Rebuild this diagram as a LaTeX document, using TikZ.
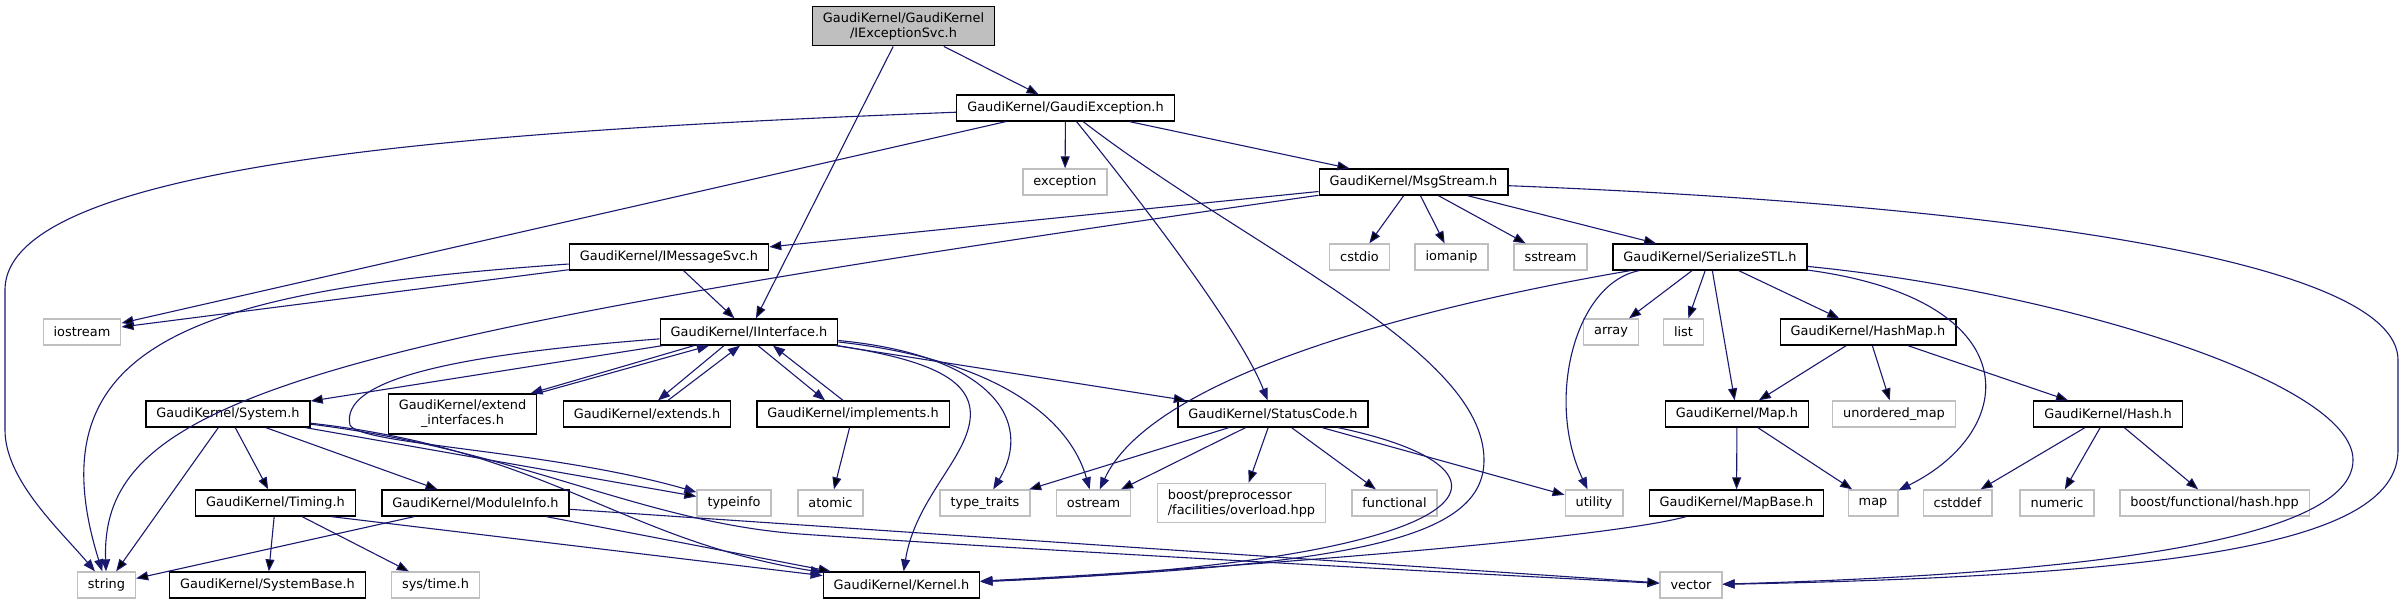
\documentclass[tikz,border=0pt]{standalone}
\usepackage{fontspec}
\setmainfont{DejaVu Sans}
\usetikzlibrary{arrows.meta}
\definecolor{edgeblue}{HTML}{191970}
\definecolor{grey75}{HTML}{BFBFBF}

\begin{document}
\begin{tikzpicture}[x=1pt, y=-1pt,
	every node/.style={draw, fill=white, line width=1.3pt, minimum height=26pt, inner xsep=10.5pt, inner ysep=6pt, font=\fontsize{12.9}{15}\selectfont},
	hdr/.style={draw=black},
	sys/.style={draw=grey75},
	rootbox/.style={draw=black, fill=grey75, align=center},
	dep/.style={draw=edgeblue, line width=1.1pt, -{Triangle[length=12pt, width=9pt]}}]
	\useasboundingbox (0, 0) rectangle (2404, 604);

	\node[rootbox] at (903.5, 26) (root) {GaudiKernel/GaudiKernel\\/IExceptionSvc.h};
	\node[hdr] at (1065.5, 108) (ge) {GaudiKernel/GaudiException.h};
	\node[sys] at (1065, 182) (exc) {exception};
	\node[hdr] at (1413.5, 182) (msg) {GaudiKernel/MsgStream.h};
	\node[hdr] at (669, 257) (imsg) {GaudiKernel/IMessageSvc.h};
	\node[sys] at (1359.5, 257) (cstdio) {cstdio};
	\node[sys] at (1451.5, 257) (iomanip) {iomanip};
	\node[sys] at (1550.5, 257) (sstream) {sstream};
	\node[hdr] at (1710, 257) (ser) {GaudiKernel/SerializeSTL.h};
	\node[sys] at (82, 332) (iostream) {iostream};
	\node[hdr] at (749, 332) (iint) {GaudiKernel/IInterface.h};
	\node[sys] at (1611, 332) (array) {array};
	\node[sys] at (1683.5, 332) (list) {list};
	\node[hdr] at (1868, 332) (hashmap) {GaudiKernel/HashMap.h};
	\node[hdr] at (228, 414) (system) {GaudiKernel/System.h};
	\node[hdr, align=center] at (462.5, 414) (extif) {GaudiKernel/extend\\\_interfaces.h};
	\node[hdr] at (647, 414) (extends) {GaudiKernel/extends.h};
	\node[hdr] at (853, 414) (impl) {GaudiKernel/implements.h};
	\node[hdr] at (1273, 414) (status) {GaudiKernel/StatusCode.h};
	\node[hdr] at (1737, 414) (mapH) {GaudiKernel/Map.h};
	\node[sys] at (1894, 414) (umap) {unordered\_map};
	\node[hdr] at (2108, 414) (hash) {GaudiKernel/Hash.h};
	\node[hdr] at (275.5, 503) (timing) {GaudiKernel/Timing.h};
	\node[hdr] at (475.5, 503) (modinfo) {GaudiKernel/ModuleInfo.h};
	\node[sys] at (734, 503) (typeinfo) {typeinfo};
	\node[sys] at (830.5, 503) (atomic) {atomic};
	\node[sys] at (985, 503) (typetraits) {type\_traits};
	\node[sys] at (1093.5, 503) (ostream) {ostream};
	\node[sys, align=left] at (1241.5, 503) (boostpp) {boost/preprocessor\\/facilities/overload.hpp};
	\node[sys] at (1394.5, 503) (functional) {functional};
	\node[sys] at (1594, 503) (utility) {utility};
	\node[hdr] at (1736.5, 503) (mapbase) {GaudiKernel/MapBase.h};
	\node[sys] at (1873, 503) (map) {map};
	\node[sys] at (1957.5, 503) (cstddef) {cstddef};
	\node[sys] at (2057, 503) (numeric) {numeric};
	\node[sys] at (2214.5, 503) (boosthash) {boost/functional/hash.hpp};
	\node[sys] at (106.5, 585) (string) {string};
	\node[hdr] at (267.5, 585) (sysbase) {GaudiKernel/SystemBase.h};
	\node[sys] at (435.5, 585) (systime) {sys/time.h};
	\node[hdr] at (901.5, 585) (kernel) {GaudiKernel/Kernel.h};
	\node[sys] at (1691, 585) (vector) {vector};

	\draw [dep] (root) edge (ge) (root) edge (iint);
	\draw [dep] (ge) edge (exc) (ge) edge (msg) (ge) edge (iostream);
	\draw [dep] (ge) .. controls (500, 130) and (5, 160) .. (5, 290) -- (5, 430) .. controls (5, 480) and (60, 530) .. (string);
	\draw [dep] (ge) .. controls (1140, 200) and (1240, 330) .. (status);
	\draw [dep] (ge) .. controls (1250, 250) and (1484, 350) .. (1484, 460) .. controls (1484, 540) and (1350, 565) .. (kernel);

	\draw [dep] (msg) edge (imsg) (msg) edge (cstdio) (msg) edge (iomanip) (msg) edge (sstream) (msg) edge (ser);
	\draw [dep] (msg) .. controls (300, 340) and (100, 400) .. (string);
	\draw [dep] (msg) .. controls (2000, 205) and (2398, 260) .. (2398, 360) -- (2398, 450) .. controls (2398, 540) and (2200, 575) .. (vector);

	\draw [dep] (imsg) edge (iint) (imsg) edge (iostream);
	\draw [dep] (imsg) .. controls (200, 290) and (30, 340) .. (string);

	\draw [dep] (ser) edge (array) (ser) edge (list) (ser) edge (mapH) (ser) edge (hashmap);
	\draw [dep] (ser) .. controls (2030, 300) and (2020, 430) .. (map);
	\draw [dep] (ser) .. controls (1575, 283) and (1545, 400) .. (utility);
	\draw [dep] (ser) .. controls (1400, 310) and (1150, 380) .. (ostream);
	\draw [dep] (ser) .. controls (2050, 290) and (2353, 380) .. (2353, 460) .. controls (2353, 530) and (2150, 572) .. (vector);
	\draw [dep] (hashmap) edge (mapH) (hashmap) edge (umap) (hashmap) edge (hash);
	\draw [dep] (hash) edge (cstddef) (hash) edge (numeric) (hash) edge (boosthash);
	\draw [dep] (mapH) edge (mapbase) (mapH) edge (map);
	\draw [dep] (mapbase) .. controls (1600, 540) and (1200, 570) .. (kernel);

	\draw [dep] (iint) edge (system) (iint) edge (status);
	\draw [dep] ([xshift=-55pt]iint.south) -- ([xshift=68pt]extif.north);
	\draw [dep] (extif.north east) -- ([xshift=-40pt]iint.south);
	\draw [dep] ([xshift=-25pt]iint.south) -- ([xshift=11pt]extends.north);
	\draw [dep] ([xshift=21pt]extends.north) -- ([xshift=-9pt]iint.south);
	\draw [dep] ([xshift=9pt]iint.south) -- ([xshift=-28pt]impl.north);
	\draw [dep] ([xshift=-10pt]impl.north) -- ([xshift=24pt]iint.south);
	\draw [dep] (iint) .. controls (450, 355) and (340, 380) .. (350, 425) .. controls (360, 445) and (550, 450) .. (typeinfo);
	\draw [dep] (iint) .. controls (990, 355) and (1035, 420) .. (typetraits);
	\draw [dep] (iint) .. controls (1000, 360) and (1070, 420) .. (ostream);
	\draw [dep] (iint) .. controls (930, 360) and (975, 380) .. (970, 420) .. controls (965, 460) and (915, 500) .. (kernel);
	\draw [dep] (impl) edge (atomic);

	\draw [dep] (system) edge (string) (system) edge (timing) (system) edge (modinfo) (system) edge (typeinfo);
	\draw [dep] (system) .. controls (550, 450) and (620, 540) .. (kernel);
	\draw [dep] (system) .. controls (520, 450) and (640, 522) .. (800, 534) .. controls (1000, 548) and (1400, 570) .. (vector);
	\draw [dep] (modinfo) edge (string) (modinfo) edge (kernel) (modinfo) edge (vector);
	\draw [dep] (timing) edge (sysbase) (timing) edge (systime);
	\draw [dep] ([xshift=56pt]timing.south) -- (kernel);

	\draw [dep] (status) edge (typetraits) (status) edge (ostream) (status) edge (boostpp) (status) edge (functional) (status) edge (utility);
	\draw [dep] (status) .. controls (1540, 470) and (1500, 560) .. (kernel);
\end{tikzpicture}
\end{document}
